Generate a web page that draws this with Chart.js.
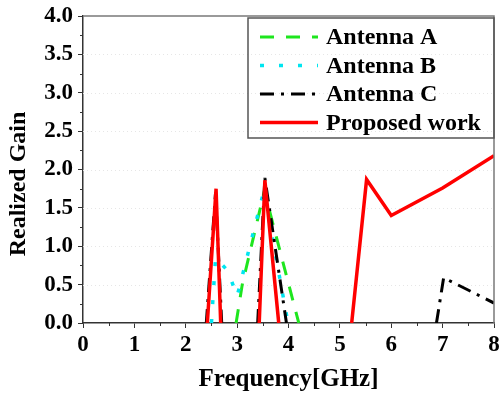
<!DOCTYPE html>
<html>
<head>
<meta charset="utf-8">
<script src="https://cdn.jsdelivr.net/npm/chart.js@4.4.1/dist/chart.umd.min.js"></script>
<style>
  html, body { margin: 0; padding: 0; background: #fff; }
  #wrap { width: 499px; height: 396px; }
</style>
</head>
<body>
<div id="wrap"><canvas id="chartGain"></canvas></div>
<script>
// Datos (frecuencia en GHz, ganancia)
const freqA = [2.98, 3.10, 3.53, 4.20];
const gainA = [0, 0.50, 1.72, 0];

const freqB = [2.50, 2.58, 2.82, 3.00, 3.52, 3.99];
const gainB = [0, 0.85, 0.68, 0.35, 1.72, 0];

const freqC = [2.40, 2.58, 2.70, 3.00, 3.40, 3.54, 3.96, 5.00, 6.88, 7.02, 8.00];
const gainC = [0, 1.70, 0, null, 0, 1.89, 0, null, 0, 0.59, 0.26];

const freqP = [2.42, 2.59, 2.68, 3.00, 3.43, 3.54, 3.81, 4.50, 5.23, 5.52, 6.00, 7.00, 8.00];
const gainP = [0, 1.75, 0, null, 0, 1.86, 0, null, 0, 1.87, 1.40, 1.76, 2.18];

const seriesLabels = ['Antenna A', 'Antenna B', 'Antenna C', 'Proposed work'];
const xTicks = [0, 1, 2, 3, 4, 5, 6, 7, 8];
const yTicks = [0, 0.5, 1.0, 1.5, 2.0, 2.5, 3.0, 3.5, 4.0];
const yTitle = 'Realized Gain';

const FONT = '"Liberation Serif", "Times New Roman", serif';

function toPoints(xs, ys) {
    return xs.map((x, i) => ({ x, y: ys[i] }));
}

// ===========================
// PLUGINS
// ===========================
const framePlugin = {
    id: 'frame',
    beforeDatasetsDraw(chart) {
        const { ctx, chartArea: a, scales } = chart;
        ctx.save();
        ctx.strokeStyle = '#e6e6e6';
        ctx.lineWidth = 1;
        ctx.setLineDash([1, 3]);
        yTicks.forEach(v => {
            if (v === 0 || v === 4) return;
            const py = Math.round(scales.y.getPixelForValue(v)) + 0.5;
            ctx.beginPath();
            ctx.moveTo(a.left, py);
            ctx.lineTo(a.right, py);
            ctx.stroke();
        });
        ctx.restore();
    },
    afterDraw(chart) {
        const { ctx, chartArea: a, scales } = chart;
        ctx.save();
        // marco superior y derecho
        ctx.strokeStyle = '#7a7a7a';
        ctx.lineWidth = 1.5;
        ctx.beginPath();
        ctx.moveTo(a.left, a.top);
        ctx.lineTo(a.right, a.top);
        ctx.lineTo(a.right, a.bottom);
        ctx.stroke();

        // ticks menores
        ctx.strokeStyle = '#333';
        ctx.lineWidth = 1;
        for (let v = 0.25; v < 4; v += 0.5) {
            const py = Math.round(scales.y.getPixelForValue(v)) + 0.5;
            ctx.beginPath();
            ctx.moveTo(a.left - 3, py);
            ctx.lineTo(a.left, py);
            ctx.stroke();
        }
        for (let v = 0.5; v < 8; v += 1) {
            const px = Math.round(scales.x.getPixelForValue(v)) + 0.5;
            ctx.beginPath();
            ctx.moveTo(px, a.bottom);
            ctx.lineTo(px, a.bottom + 3);
            ctx.stroke();
        }

        // título del eje Y
        ctx.save();
        ctx.translate(18.5, 184);
        ctx.rotate(-Math.PI / 2);
        ctx.font = 'bold 24px ' + FONT;
        ctx.textAlign = 'center';
        ctx.textBaseline = 'middle';
        ctx.fillStyle = '#000';
        ctx.fillText(yTitle, 0, 0);
        ctx.restore();

        // leyenda
        const left = a.right - 246;
        const top = a.top + 2;
        ctx.strokeStyle = '#555';
        ctx.lineWidth = 1.5;
        ctx.strokeRect(left, top, a.right - left, 120);
        ctx.font = 'bold 24px ' + FONT;
        ctx.textBaseline = 'middle';
        ctx.fillStyle = '#000';
        chart.data.datasets.forEach((ds, i) => {
            const ry = top + 19 + i * 28.5;
            ctx.save();
            ctx.strokeStyle = ds.borderColor;
            ctx.lineWidth = ds.borderWidth;
            ctx.setLineDash(ds.borderDash || []);
            ctx.beginPath();
            ctx.moveTo(left + 12, ry);
            ctx.lineTo(left + 70, ry);
            ctx.stroke();
            ctx.restore();
            ctx.fillText(ds.label, left + 78, ry + 1);
        });
        ctx.restore();
    }
};

// ===========================
// GRÁFICO
// ===========================
new Chart(document.getElementById('chartGain'), {
    type: 'line',
    data: {
        datasets: [
            {
                label: seriesLabels[0],
                data: toPoints(freqA, gainA),
                borderColor: '#1ee61e',
                borderWidth: 3,
                borderDash: [14, 12],
                order: 3
            },
            {
                label: seriesLabels[1],
                data: toPoints(freqB, gainB),
                borderColor: '#00e5f0',
                borderWidth: 3.5,
                borderDash: [4, 15],
                order: 2
            },
            {
                label: seriesLabels[2],
                data: toPoints(freqC, gainC),
                borderColor: '#000000',
                borderWidth: 3,
                borderDash: [14, 7, 3, 7],
                order: 1
            },
            {
                label: seriesLabels[3],
                data: toPoints(freqP, gainP),
                borderColor: '#ff0000',
                borderWidth: 3.5,
                order: 0
            }
        ]
    },
    options: {
        responsive: true,
        maintainAspectRatio: false,
        animation: false,
        spanGaps: false,
        elements: { point: { radius: 0 }, line: { tension: 0 } },
        layout: { padding: { top: 16, right: 5, left: 0, bottom: 0 } },
        plugins: { legend: { display: false }, tooltip: { enabled: false } },
        scales: {
            x: {
                type: 'linear',
                min: 0,
                max: 8,
                afterBuildTicks: s => { s.ticks = xTicks.map(v => ({ value: v })); },
                afterFit: s => { s.height = 73; s.paddingLeft = 0; s.paddingRight = 0; },
                ticks: {
                    color: '#000',
                    font: { family: FONT, size: 23, weight: 'bold' },
                    padding: 3,
                    maxRotation: 0,
                    callback: v => String(v)
                },
                grid: { drawOnChartArea: false, tickLength: 5, tickColor: '#333' },
                border: { color: '#333', width: 1.5 },
                title: {
                    display: true,
                    text: 'Frequency[GHz]',
                    color: '#000',
                    font: { family: FONT, size: 25, weight: 'bold' },
                    padding: { top: 0, bottom: 1 }
                }
            },
            y: {
                min: 0,
                max: 4,
                afterBuildTicks: s => { s.ticks = yTicks.map(v => ({ value: v })); },
                afterFit: s => { s.width = 83; s.paddingTop = 0; s.paddingBottom = 0; },
                ticks: {
                    color: '#000',
                    font: { family: FONT, size: 23, weight: 'bold' },
                    padding: 5,
                    callback: v => v.toFixed(1)
                },
                grid: { drawOnChartArea: false, tickLength: 5, tickColor: '#333' },
                border: { color: '#333', width: 1.5 }
            }
        }
    },
    plugins: [framePlugin]
});
</script>
</body>
</html>
